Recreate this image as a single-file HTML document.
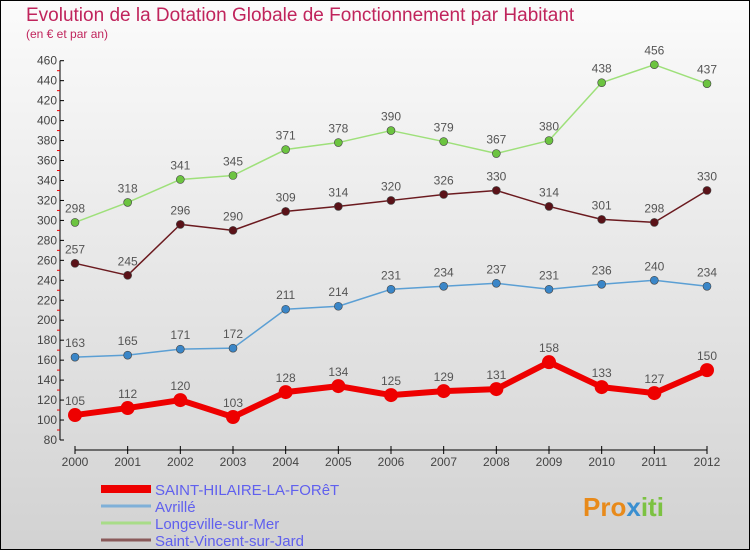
<!DOCTYPE html>
<html><head><meta charset="utf-8"><style>
body{margin:0;width:750px;height:550px;overflow:hidden}
svg{display:block;font-family:"Liberation Sans",sans-serif}
</style></head><body>
<svg id="c" width="750" height="550" viewBox="0 0 750 550">
<defs><linearGradient id="bg" x1="0" y1="0" x2="0" y2="1"><stop offset="0" stop-color="#fbfbfb"/><stop offset="1" stop-color="#d2d2d2"/></linearGradient></defs>
<rect x="0.5" y="0.5" width="749" height="549" fill="url(#bg)" stroke="#000"/>
<text x="26" y="21" font-size="19" fill="#c0245c">Evolution de la Dotation Globale de Fonctionnement par Habitant</text>
<text x="26" y="38" font-size="12" fill="#c0245c">(en € et par an)</text>
<g id="axes"></g><g id="series"></g><g id="legend"></g>
<text x="583" y="516" font-size="26" font-weight="bold" fill="#e88a1a">Pro<tspan fill="#3a8fd0">x</tspan><tspan fill="#7cc242">iti</tspan></text>
</svg>
<script>
const years=[2000,2001,2002,2003,2004,2005,2006,2007,2008,2009,2010,2011,2012];
const yTicks=[80,100,120,140,160,180,200,220,240,260,280,300,320,340,360,380,400,420,440,460];
const saintHilaire=[105,112,120,103,128,134,125,129,131,158,133,127,150];
const avrille=[163,165,171,172,211,214,231,234,237,231,236,240,234];
const longeville=[298,318,341,345,371,378,390,379,367,380,438,456,437];
const saintVincent=[257,245,296,290,309,314,320,326,330,314,301,298,330];
const names=["SAINT-HILAIRE-LA-FORêT","Avrillé","Longeville-sur-Mer","Saint-Vincent-sur-Jard"];
const NS="http://www.w3.org/2000/svg";
const X=i=>75+i*(707-75)/(years.length-1);
const Y=v=>440-(v-80)*(440-60.7)/380;
function mk(p,t,a){const e=document.createElementNS(NS,t);for(const k in a)e.setAttribute(k,a[k]);p.appendChild(e);return e;}
const ax=document.getElementById('axes');
let l=mk(ax,'line',{x1:60,y1:Y(80),x2:60,y2:Y(460),stroke:'#000'});


yTicks.forEach(v=>{
 mk(ax,'line',{x1:60,y1:Y(v),x2:64,y2:Y(v),stroke:'#000'});
 if(v<460){mk(ax,'line',{x1:57,y1:Y(v+10),x2:60,y2:Y(v+10),stroke:'#e00'});}
 const t=mk(ax,'text',{x:57,y:Y(v)+4,'font-size':12,'text-anchor':'end',fill:'#444'});t.textContent=v;
 
 
});
l=mk(ax,'line',{x1:75,y1:450,x2:707,y2:450,stroke:'#000'});


years.forEach((y,i)=>{
 mk(ax,'line',{x1:X(i),y1:446,x2:X(i),y2:454,stroke:'#000'});
 const t=mk(ax,'text',{x:X(i),y:466,'font-size':12,'text-anchor':'middle',fill:'#444'});t.textContent=y;
 
 
});
const sg=document.getElementById('series');
const defs=[[saintVincent,'#6b1a1f','#5a1218',1.5,4],[longeville,'#9ee07a','#6cc440',1.5,4],[avrille,'#5b9fd4','#3a86c8',1.5,4],[saintHilaire,'#ee0000','#ee0000',6,7]];
const snames=['saint-vincent','longeville','avrille','saint-hilaire'];
defs.forEach((d,k)=>{
 const [data,lc,pc,w,r]=d;
 const g=mk(sg,'g',{});
 
 
 const pl=mk(g,'polyline',{points:data.map((v,i)=>X(i)+','+Y(v)).join(' '),fill:'none',stroke:lc,'stroke-width':w,'stroke-linejoin':'round'});
 
 
 data.forEach((v,i)=>{
  const c=mk(g,'circle',{cx:X(i),cy:Y(v),r:r,fill:pc,stroke:w>2?'none':'#444','stroke-width':0.6});
  
  
  const t=mk(g,'text',{x:X(i),y:Y(v)-10,'font-size':12,'text-anchor':'middle',fill:'#555'});t.textContent=v;
  
  
 });
});
const lg=document.getElementById('legend');
const lcol=['#ee0000','#7fb0d8','#a8dc88','#8a5a5a'];const lw=[8,3,3,3];
names.forEach((n,i)=>{
 const y=492+i*17;
 const e=mk(lg,'line',{x1:101,y1:y-3,x2:151,y2:y-3,stroke:lcol[i],'stroke-width':lw[i]});
 
 
 const t=mk(lg,'text',{x:155,y:y+3,'font-size':15,fill:'#6060ee'});t.textContent=n;
 
 
});
</script>
</body></html>
